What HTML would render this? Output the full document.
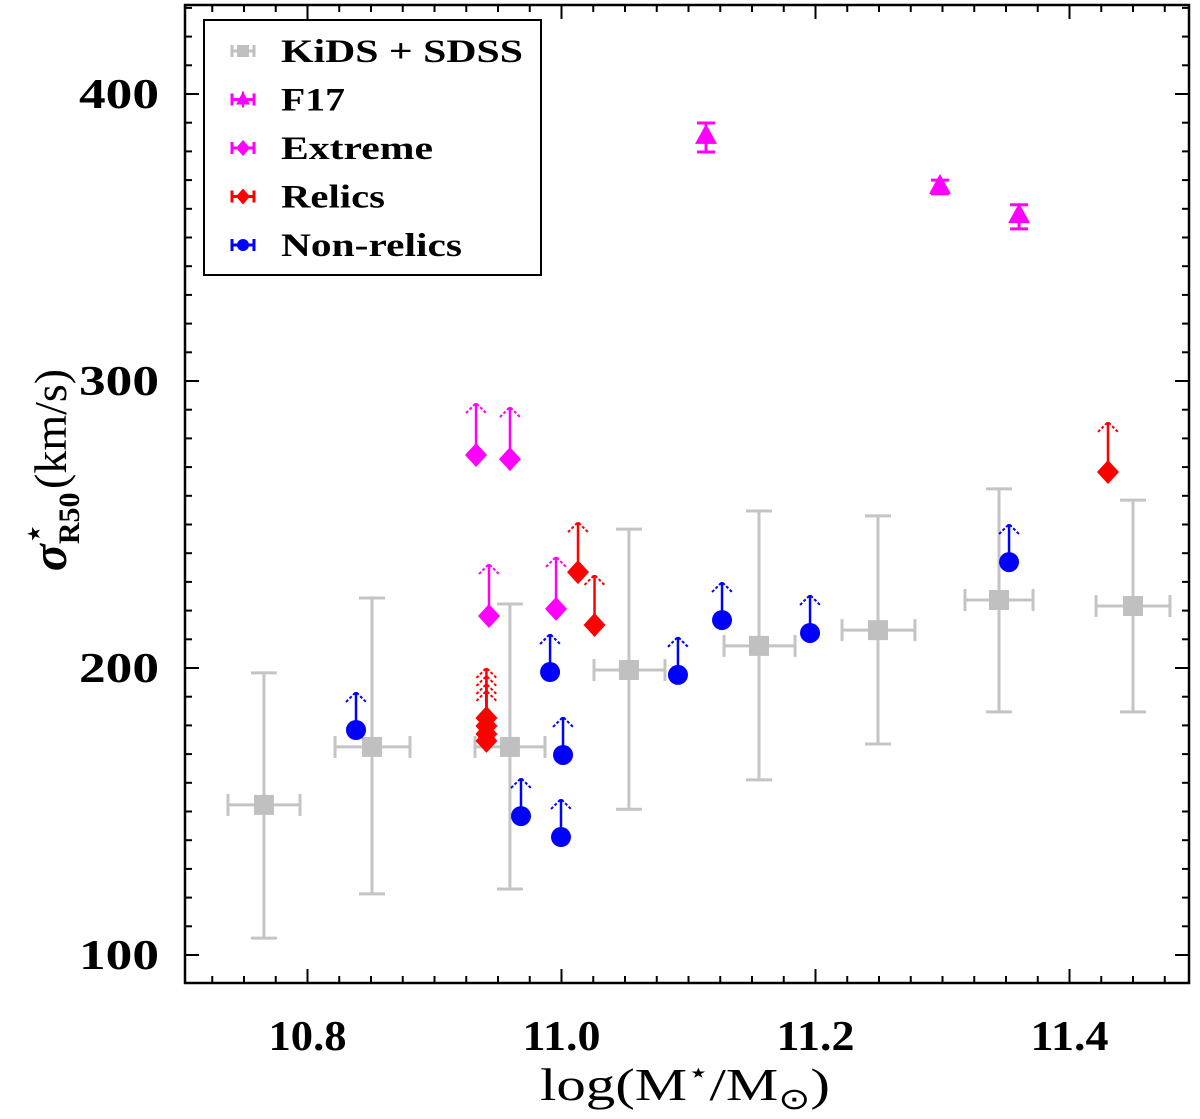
<!DOCTYPE html>
<html><head><meta charset="utf-8"><style>
html,body{margin:0;padding:0;background:#fff;}
svg text{font-family:"Liberation Serif",serif;font-weight:bold;fill:#000;}
svg .reg{font-weight:normal;}
</style></head><body>
<svg id="chart" width="1200" height="1114" xmlns="http://www.w3.org/2000/svg"></svg>
<script>
const xTicks=[10.8,11.0,11.2,11.4];
const xTickLabels=["10.8","11.0","11.2","11.4"];
const yTicks=[100,200,300,400];
const yTickLabels=["100","200","300","400"];
// KiDS+SDSS
const kidsX=[10.7657,10.8508,10.9594,11.0531,11.1555,11.2492,11.3445,11.4500];
const kidsXlo=[10.7374,10.8217,10.9319,11.0256,11.1280,11.2209,11.3177,11.4209];
const kidsXhi=[10.7941,10.8807,10.9870,11.0815,11.1839,11.2783,11.3713,11.4791];
const kidsY=[152.3,172.5,172.5,199.3,207.7,213.2,223.7,221.6];
const kidsYlo=[105.9,121.3,123.0,150.8,161.0,173.5,184.7,184.7];
const kidsYhi=[198.3,224.4,222.3,248.4,254.7,253.0,262.4,258.5];
// F17
const f17X=[11.1138,11.298,11.3603];
const f17Y=[385.4,368.0,357.8];
const f17Ylo=[379.8,365.2,353.0];
const f17Yhi=[389.9,370.0,361.4];
// Extreme
const extX=[10.9327,10.9594,10.9429,10.9957];
const extY=[274.2,272.8,218.1,220.6];
// Relics
const relX=[11.013,11.026,11.4303,10.9409,10.9409,10.9409,10.9409];
const relY=[233.4,215.0,268.3,182.6,179.8,177.0,174.6];
// Non-relics
const nrX=[10.8382,10.991,11.0012,10.9681,10.9996,11.0917,11.1264,11.1957,11.3524];
const nrY=[178.4,198.6,169.7,148.4,141.1,197.6,216.7,212.2,236.9];

const L=185,R=1189,T=5,B=983;
const xs=v=>307.5+(v-10.8)*1270;
const ys=v=>955-(v-100)*2.87;
const svg=document.getElementById('chart');
const NS="http://www.w3.org/2000/svg";
function mk(tag,attrs,parent){const e=document.createElementNS(NS,tag);for(const k in attrs)e.setAttribute(k,attrs[k]);(parent||svg).appendChild(e);return e;}

const axes=mk('g',{});


for(let i=0;i<=32;i++){const v=10.7+i*0.025;const x=xs(v);if(x<L||x>R)continue;
 const major=xTicks.some(t=>Math.abs(t-v)<1e-6);const len=major?14:7;
 mk('line',{x1:x,y1:B,x2:x,y2:B-len,stroke:'#000','stroke-width':2},axes);
 mk('line',{x1:x,y1:T,x2:x,y2:T+len,stroke:'#000','stroke-width':2},axes);}
for(let v=90;v<=430;v+=10){const y=ys(v);if(y<T||y>B)continue;
 const major=v%100===0;const len=major?14:7;
 mk('line',{x1:L,y1:y,x2:L+len,y2:y,stroke:'#000','stroke-width':2},axes);
 mk('line',{x1:R,y1:y,x2:R-len,y2:y,stroke:'#000','stroke-width':2},axes);}
xTicks.forEach((t,i)=>{const e=mk('text',{x:xs(t)-39,y:1050,'font-size':42,textLength:78,lengthAdjust:'spacingAndGlyphs'},axes);e.textContent=xTickLabels[i];
 
 });
yTicks.forEach((t,i)=>{const e=mk('text',{x:79,y:ys(t)+14,'font-size':42,textLength:80,lengthAdjust:'spacingAndGlyphs'},axes);e.textContent=yTickLabels[i];
 
 });

function errbar(g,x1,y1,x2,y2,color,cap,horiz){
 mk('line',{x1,y1,x2,y2,stroke:color,'stroke-width':3},g);
 if(horiz){[x1,x2].forEach(x=>mk('line',{x1:x,y1:y1-cap,x2:x,y2:y1+cap,stroke:color,'stroke-width':3},g));}
 else{[y1,y2].forEach(y=>mk('line',{x1:x1-cap,y1:y,x2:x1+cap,y2:y,stroke:color,'stroke-width':3},g));}
}
function arrow(g,x,y,len,color){
 mk('line',{x1:x,y1:y,x2:x,y2:y-len,stroke:color,'stroke-width':2.5},g);
 mk('path',{d:`M${x-10},${y-len+10} L${x},${y-len} L${x+10},${y-len+10}`,fill:'none',stroke:color,'stroke-width':2,'stroke-dasharray':'3,2'},g);
}
function diamond(g,x,y,c){mk('path',{d:`M${x},${y-12} L${x+11},${y} L${x},${y+12} L${x-11},${y} Z`,fill:c},g);}

const gk=mk('g',{});


kidsX.forEach((v,i)=>{const x=xs(v),y=ys(kidsY[i]);
 errbar(gk,x,ys(kidsYlo[i]),x,ys(kidsYhi[i]),'#c4c4c4',13,false);
 errbar(gk,xs(kidsXlo[i]),y,xs(kidsXhi[i]),y,'#c4c4c4',11,true);
 const r=mk('rect',{x:x-10,y:y-10,width:20,height:20,fill:'#c0c0c0'},gk);
 
 });
const gf=mk('g',{});


f17X.forEach((v,i)=>{const x=xs(v),y=ys(f17Y[i]);
 errbar(gf,x,ys(f17Ylo[i]),x,ys(f17Yhi[i]),'#ff00ff',9,false);
 const p=mk('path',{d:`M${x},${y-12} L${x+11},${y+8} L${x-11},${y+8} Z`,fill:'#ff00ff'},gf);
 
 });
const ge=mk('g',{});


extX.forEach((v,i)=>{const x=xs(v),y=ys(extY[i]);arrow(ge,x,y,52,'#ff00ff');diamond(ge,x,y,'#ff00ff');});
const gr=mk('g',{});


relX.forEach((v,i)=>{const x=xs(v),y=ys(relY[i]);arrow(gr,x,y,50,'#ff0000');diamond(gr,x,y,'#ff0000');});
const gn=mk('g',{});


nrX.forEach((v,i)=>{const x=xs(v),y=ys(nrY[i]);arrow(gn,x,y,38,'#0000ff');
 const c=mk('circle',{cx:x,cy:y,r:10,fill:'#0000ff'},gn);
 
 });

const fr=mk('rect',{x:L,y:T,width:R-L,height:B-T,fill:'none',stroke:'#000','stroke-width':2.5});



const lg=mk('g',{});


mk('rect',{x:204,y:20,width:337,height:255,fill:'#fff',stroke:'#000','stroke-width':2},lg);
const entries=[["KiDS + SDSS","#c0c0c0","sq",242],["F17","#ff00ff","tri",64],["Extreme","#ff00ff","dia",152],["Relics","#ff0000","dia",104],["Non-relics","#0000ff","circ",181]];
entries.forEach((en,i)=>{const y=51+i*48.5,x=243;
 const g=mk('g',{},lg);
 
 
 errbar(g,x-11,y,x+11,y,en[1],6,true);
 if(en[2]==='sq')mk('rect',{x:x-6,y:y-6,width:12,height:12,fill:en[1]},g);
 else if(en[2]==='tri'){mk('path',{d:`M${x},${y-8} L${x+7},${y+5} L${x-7},${y+5} Z`,fill:en[1]},g);mk('line',{x1:x,y1:y-8,x2:x,y2:y+8,stroke:en[1],'stroke-width':2},g);}
 else if(en[2]==='dia')mk('path',{d:`M${x},${y-8} L${x+7},${y} L${x},${y+8} L${x-7},${y} Z`,fill:en[1]},g);
 else mk('circle',{cx:x,cy:y,r:6,fill:en[1]},g);
 const t=mk('text',{x:281,y:y+11,'font-size':33,textLength:en[3],lengthAdjust:'spacingAndGlyphs'},g);t.textContent=en[0];});

const xl=mk('text',{x:540,y:1100,'font-size':46,'class':'reg',textLength:290,lengthAdjust:'spacingAndGlyphs'});


xl.innerHTML='log(M<tspan font-size="28" dy="-18">⋆</tspan><tspan dy="18">/M</tspan><tspan font-size="30" dy="9">⊙</tspan><tspan dy="-9">)</tspan>';
const yl=mk('text',{x:0,y:0,'text-anchor':'middle','font-size':46,transform:'translate(66,470) rotate(-90)'});


yl.innerHTML='<tspan font-style="italic" font-size="50">σ</tspan><tspan font-size="30" dy="13">R50</tspan><tspan font-size="28" dx="-50" dy="-36">⋆</tspan><tspan dx="36" dy="23" class="reg">(km/s)</tspan>';
</script>
</body></html>
